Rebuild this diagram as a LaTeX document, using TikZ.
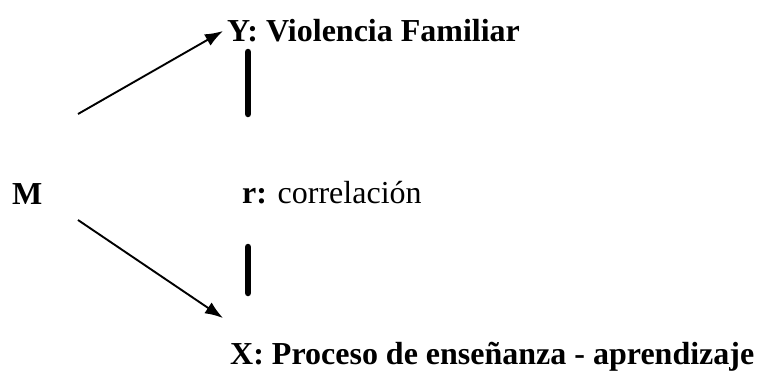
\documentclass[tikz,border=0pt]{standalone}
\usepackage{fontspec}
\setmainfont{Liberation Serif}
\usetikzlibrary{arrows.meta}

\tikzset{
    label text/.style={anchor=base west, inner sep=0pt, font=\fontsize{32}{38}\selectfont\bfseries},
    arrow line/.style={line width=1.9pt, -{Latex[length=18pt, width=13pt]}},
    bar line/.style={line width=6.5pt, line cap=round}
}

\begin{document}
\begin{tikzpicture}[x=1pt, y=-1pt]
    % Fix the size of the picture
    \useasboundingbox (0,0) rectangle (760,372);

    % Labels
    \node[label text] (m) at (12,204) {M};
    \node[label text] (y) at (227,41) {Y: Violencia Familiar};
    \node[label text] (r) at (242,203) {r: \mdseries correlación};
    \node[label text] (x) at (230,364) {X: Proceso de enseñanza - aprendizaje};

    % Ends of the arrows and of the bars
    \coordinate (m-up) at (78,114);
    \coordinate (y-in) at (223,31);
    \coordinate (m-down) at (78,220);
    \coordinate (x-in) at (223,318);
    \coordinate (bar1-top) at (248,52);
    \coordinate (bar1-bottom) at (248,114);
    \coordinate (bar2-top) at (248,247);
    \coordinate (bar2-bottom) at (248,293);

    % Arrows from the sample
    \draw[arrow line] (m-up) -- (y-in);
    \draw[arrow line] (m-down) -- (x-in);

    % Correlation bars
    \draw[bar line] (bar1-top) -- (bar1-bottom);
    \draw[bar line] (bar2-top) -- (bar2-bottom);
\end{tikzpicture}
\end{document}
